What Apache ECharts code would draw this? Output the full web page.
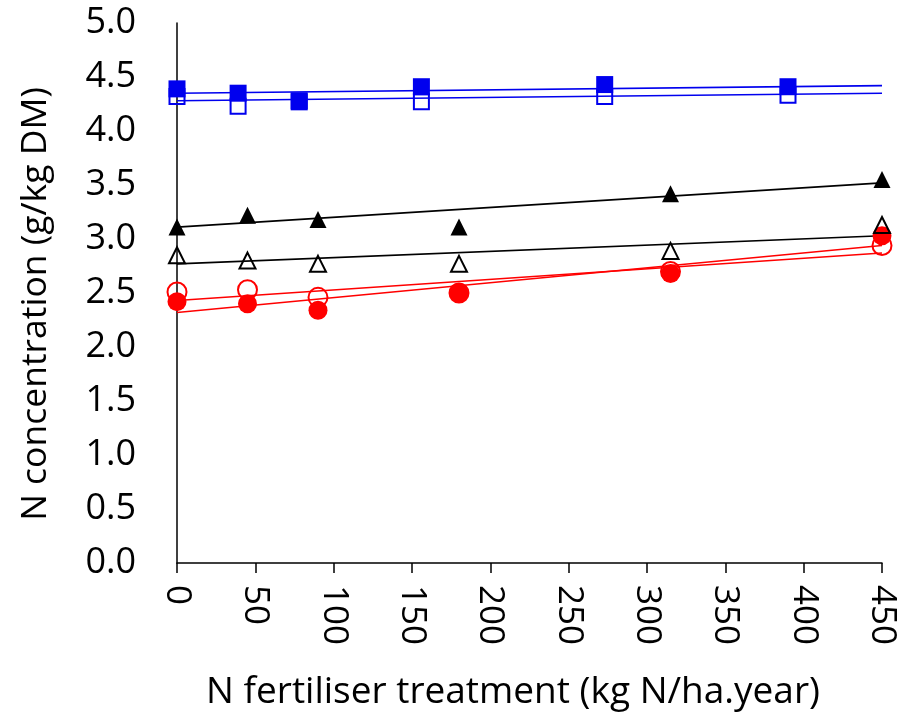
<!DOCTYPE html>
<html>
<head>
<meta charset="utf-8">
<script src="https://cdn.jsdelivr.net/npm/echarts@6/dist/echarts.min.js"></script>
<style>html,body{margin:0;padding:0;background:#fff}#c{width:908px;height:715px}</style>
</head>
<body>
<div id="c"></div>
<script>
// ---- data ----
var xSquares = [0, 39, 78, 156, 273, 390];
var filledSquares = [4.39, 4.35, 4.27, 4.41, 4.43, 4.41];
var openSquares = [4.32, 4.23, 4.28, 4.27, 4.32, 4.33];
var xOther = [0, 45, 90, 180, 315, 450];
var filledTriangles = [3.11, 3.22, 3.18, 3.11, 3.42, 3.55];
var openTriangles = [2.85, 2.80, 2.77, 2.77, 2.89, 3.13];
var filledCircles = [2.42, 2.40, 2.34, 2.50, 2.68, 3.03];
var openCircles = [2.51, 2.53, 2.46, 2.50, 2.70, 2.94];
// trendline end values at x = 0 and x = 450
var trendX = [0, 450];
var trendFilledSquares = [4.35, 4.42];
var trendOpenSquares = [4.28, 4.35];
var trendFilledTriangles = [3.11, 3.52];
var trendOpenTriangles = [2.77, 3.03];
var trendFilledCircles = [2.32, 2.94];
var trendOpenCircles = [2.43, 2.87];
var xTicks = [0, 50, 100, 150, 200, 250, 300, 350, 400, 450];
var yTicks = ['0.0','0.5','1.0','1.5','2.0','2.5','3.0','3.5','4.0','4.5','5.0'];

function pairs(xs, ys) { return xs.map(function (x, i) { return [x, ys[i]]; }); }

var BLUE = '#0000ee', RED = '#ff0000', BLACK = '#000000';
var FONT = 'Open Sans';

function line(name, ys, color) {
  return { name: name, type: 'line', data: pairs(trendX, ys), symbol: 'none', silent: true,
    lineStyle: { color: color, width: 1.6, opacity: 1 }, z: 2 };
}
function pts(name, xs, ys, symbol, size, color, filled) {
  return { name: name, type: 'scatter', data: pairs(xs, ys), symbol: symbol, symbolSize: size,
    itemStyle: filled ? { color: color, opacity: 1 } : { color: 'rgba(0,0,0,0)', borderColor: color, borderWidth: 2, opacity: 1 },
    z: 3 };
}

var chart = echarts.init(document.getElementById('c'), null, { renderer: 'canvas' });
chart.setOption({
  animation: false,
  backgroundColor: '#fff',
  grid: { left: 177, right: 26, top: 23, bottom: 152, containLabel: false },
  xAxis: {
    type: 'value', min: 0, max: 450, interval: 50,
    axisLine: { lineStyle: { color: BLACK, width: 1.5 } },
    axisTick: { show: true, inside: false, length: 10, lineStyle: { color: BLACK, width: 1.5 } },
    splitLine: { show: false },
    axisLabel: { rotate: -90, margin: 22, color: BLACK, fontFamily: FONT, fontSize: 35,
      formatter: function (v) { return xTicks.indexOf(v) >= 0 ? String(v) : ''; } }
  },
  yAxis: {
    type: 'value', min: 0, max: 5, interval: 0.5,
    axisLine: { show: true, lineStyle: { color: BLACK, width: 1.5 } },
    axisTick: { show: false },
    splitLine: { show: false },
    axisLabel: { margin: 41, color: BLACK, fontFamily: FONT, fontSize: 36,
      formatter: function (v) { return yTicks[Math.round(v * 2)]; } }
  },
  graphic: [
    { type: 'text', x: 513, y: 692, style: { text: 'N fertiliser treatment (kg N/ha.year)', fill: BLACK,
      font: '37px "Open Sans"', textAlign: 'center', textVerticalAlign: 'middle', x: 0, y: 0 } },
    { type: 'text', rotation: Math.PI / 2, x: 36, y: 304, style: { text: 'N concentration (g/kg DM)', fill: BLACK,
      font: '35.5px "Open Sans"', textAlign: 'center', textVerticalAlign: 'middle', x: 0, y: 0 } }
  ],
  series: [
    line('tOC', trendOpenCircles, RED),
    line('tFC', trendFilledCircles, RED),
    pts('oc', xOther, openCircles, 'circle', 19, RED, false),
    pts('fc', xOther, filledCircles, 'circle', 19, RED, true),
    line('tOT', trendOpenTriangles, BLACK),
    line('tFT', trendFilledTriangles, BLACK),
    pts('ot', xOther, openTriangles, 'triangle', 16, BLACK, false),
    pts('ft', xOther, filledTriangles, 'triangle', 17, BLACK, true),
    line('tOS', trendOpenSquares, BLUE),
    line('tFS', trendFilledSquares, BLUE),
    pts('os', xSquares, openSquares, 'rect', 15, BLUE, false),
    pts('fs', xSquares, filledSquares, 'rect', 17, BLUE, true)
  ]
});
</script>
</body>
</html>
